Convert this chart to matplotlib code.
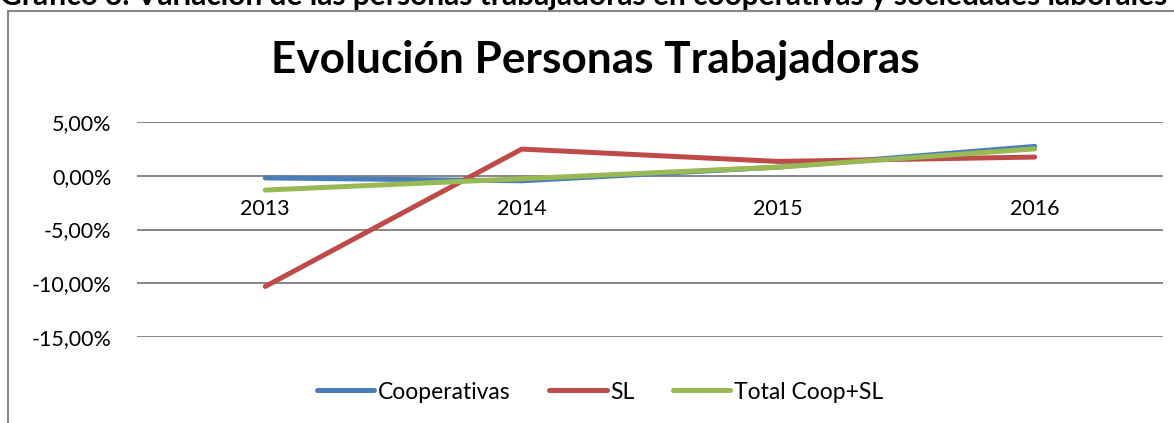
import matplotlib
matplotlib.use("Agg")
import matplotlib.pyplot as plt
from matplotlib.patches import Rectangle

years = ["2013", "2014", "2015", "2016"]
cooperativas = [-0.20, -0.47, 0.80, 2.73]
sl = [-10.30, 2.48, 1.33, 1.74]
total = [-1.33, -0.28, 0.80, 2.50]
yticks = [5, 0, -5, -10, -15]
ytick_labels = ["5,00%", "0,00%", "-5,00%", "-10,00%", "-15,00%"]

W, H = 1174, 423
fig = plt.figure(figsize=(W / 100, H / 100), dpi=100)
FONT = ["Lato", "DejaVu Sans"]

# outer chart frame (partially visible)
fig.patches.append(Rectangle((8 / W, -0.1), 1.2, 1 - 11 / H + 0.1, transform=fig.transFigure,
                             fill=False, edgecolor="#868686", linewidth=1.5))

# cut-off heading above chart (as in the reference)
fig.text(0.0, 1 - 5 / H, "Gráfico 3. Variación de las personas trabajadoras en cooperativas y sociedades laborales",
         ha="left", va="baseline", fontsize=21.5, fontweight="bold", family=FONT)

ax = fig.add_axes([137 / W, 1 - 337 / H, (1163 - 137) / W, (337 - 122) / H])
x = list(range(len(years)))
ax.plot(x, cooperativas, color="#4A7EBB", lw=3.6, solid_capstyle="round", label="Cooperativas", clip_on=False)
ax.plot(x, sl, color="#BE4B48", lw=3.6, solid_capstyle="round", label="SL", clip_on=False)
ax.plot(x, total, color="#98B954", lw=3.6, solid_capstyle="round", label="Total Coop+SL", clip_on=False)

ax.set_xlim(-0.5, len(years) - 0.5)
ax.set_ylim(-15, 5)
ax.set_yticks(yticks)
ax.set_yticklabels(ytick_labels, family=FONT, fontsize=15.5)
ax.yaxis.grid(True, color="#868686", linewidth=1.4)
ax.set_axisbelow(True)
ax.tick_params(axis="y", length=0, pad=18.5)
for s in ["left", "right", "top"]:
    ax.spines[s].set_visible(False)
ax.spines["bottom"].set_position(("data", 0))
ax.spines["bottom"].set_visible(False)
ax.set_xticks(x)
ax.set_xticklabels(years, family=FONT, fontsize=15.5)
ax.tick_params(axis="x", length=0, pad=17)

fig.text(595 / W, 1 - 72 / H, "Evolución Personas Trabajadoras", ha="center", va="baseline",
         fontsize=31.8, fontweight="bold", family=FONT)

leg = fig.legend(loc="center", bbox_to_anchor=(600 / W, 1 - 392 / H), ncol=3, frameon=False,
                 prop={"family": FONT, "size": 16.5}, handlelength=2.5, handletextpad=0.15,
                 columnspacing=1.7)

fig.savefig("out.png", dpi=100)
